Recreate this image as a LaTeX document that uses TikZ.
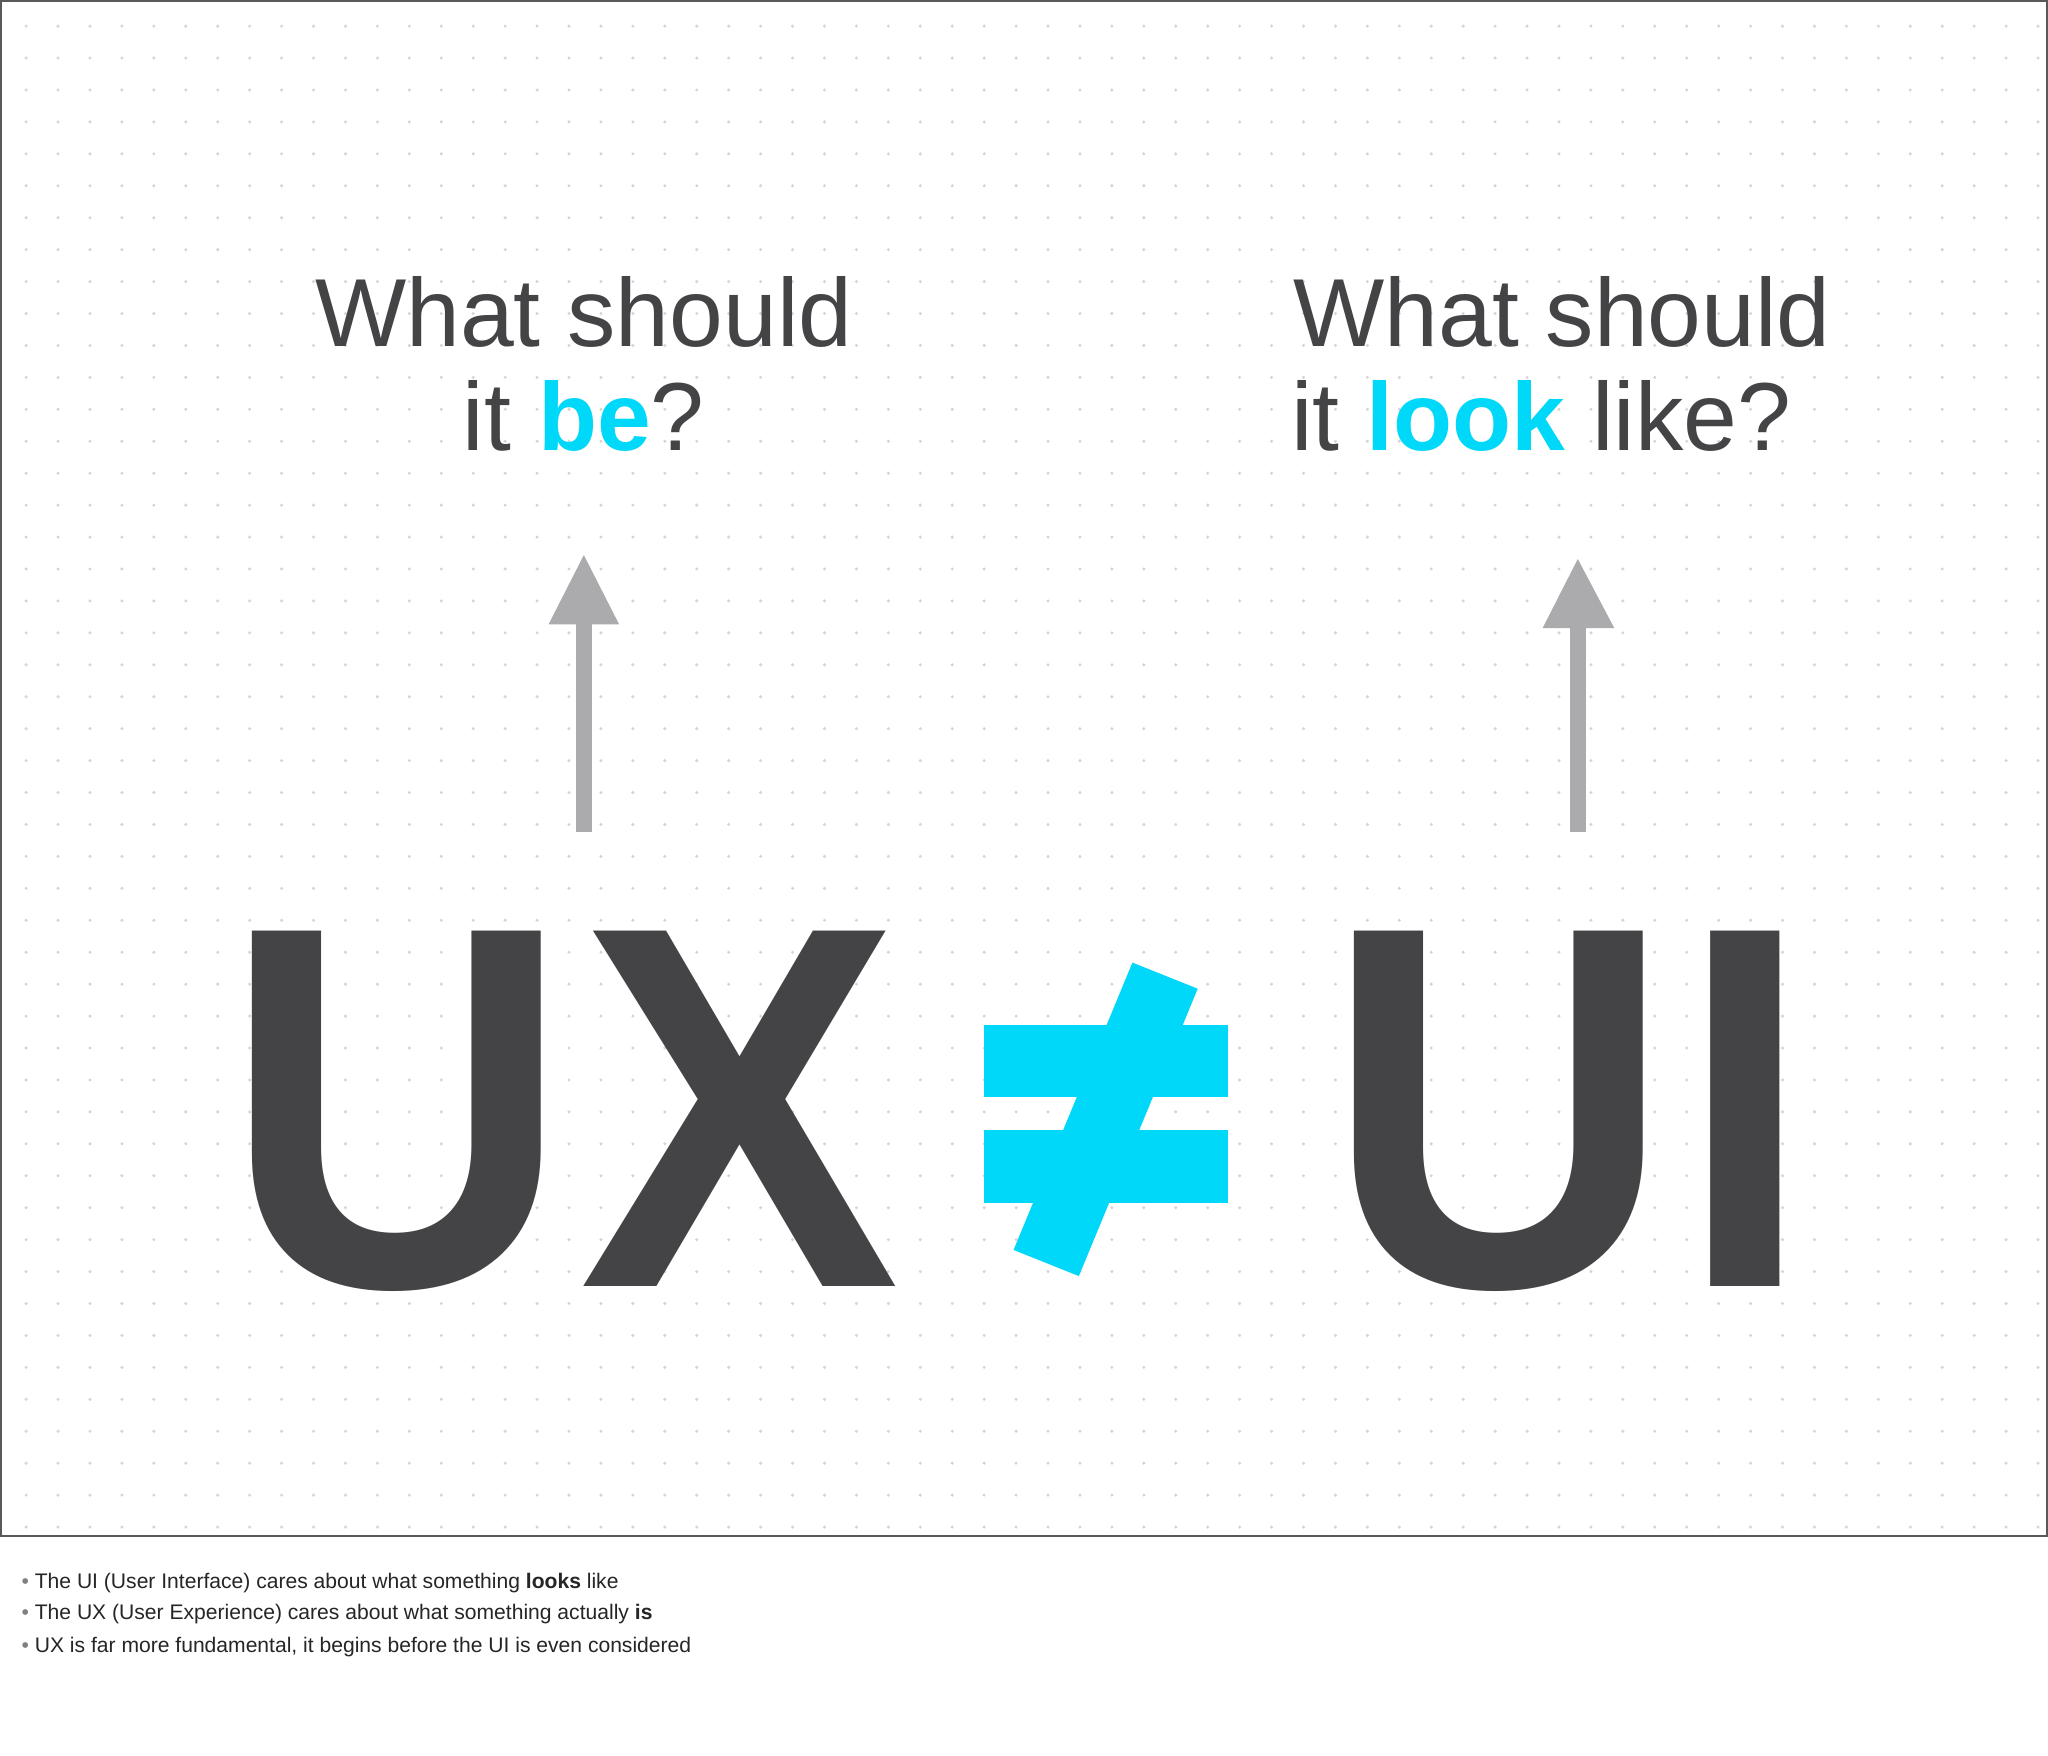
\documentclass[tikz,border=0pt]{standalone}
\usepackage{fontspec}
\setmainfont{Liberation Sans}
\definecolor{ink}{HTML}{444345}
\definecolor{cyanx}{HTML}{00D8FA}
\definecolor{arr}{HTML}{ABAAAD}
\definecolor{dotc}{HTML}{D9D2DC}
\begin{document}
\begin{tikzpicture}[x=0.013061cm,y=-0.013061cm,
  head/.style={font=\fontsize{27.5}{33}\selectfont,text=ink,align=center,inner sep=0},
  big/.style={font=\fontsize{147}{147}\selectfont\bfseries,text=ink,inner sep=0,anchor=base,xscale=0.93},
  bul/.style={font=\fontsize{6}{8}\selectfont,text=black!85,anchor=base west,inner sep=0},
  uparrow/.style={draw=arr,line width=12*0.3706pt}]
\useasboundingbox (0,0) rectangle (1568,1344);
\fill[white] (0,0) rectangle (1568,1344);
\foreach \i in {0,...,63}{\foreach \j in {0,...,47}{
  \fill[dotc] (20+24.45*\i,20+24.45*\j) circle (1.3);}}
\draw[gray!70!black,line width=0.6pt] (0.5,0.5) rectangle (1567.5,1176);
% headings
\node[head,anchor=base] (h1a) at (447,265) {What should};
\node[head,anchor=base] (h1b) at (447,345) {it \textcolor{cyanx}{\bfseries be}?};
\node[head,anchor=base] (h2a) at (1196,265) {What should};
\node[head,anchor=base] (h2b) at (1180,345) {it \textcolor{cyanx}{\bfseries look} like?};
% arrows
\coordinate (a1s) at (447,637); \coordinate (a1e) at (447,478);
\draw[uparrow] (a1s) -- (a1e);
\fill[arr] (447,425) -- (474,478) -- (420,478) -- cycle;
\coordinate (a2s) at (1208,637); \coordinate (a2e) at (1208,481);
\draw[uparrow] (a2s) -- (a2e);
\fill[arr] (1208,428) -- (1236,481) -- (1181,481) -- cycle;
% big letters
\node[big] (U1) at (304,985) {U};
\node[big] (X1) at (566,985) {X};
\node[big] (U2) at (1148,985) {U};
\node[big] (I2) at (1336,985) {I};
% not-equal
\fill[cyanx] (753,785) rectangle (940,840);
\fill[cyanx] (753,865) rectangle (940,921);
\fill[cyanx] (867,737) -- (917,757) -- (826,977) -- (776,957) -- cycle;
% bullets
\node[bul] (b1) at (16,1216) {\textcolor{gray}{•} The UI (User Interface) cares about what something \textbf{looks} like};
\node[bul] (b2) at (16,1240) {\textcolor{gray}{•} The UX (User Experience) cares about what something actually \textbf{is}};
\node[bul] (b3) at (16,1265) {\textcolor{gray}{•} UX is far more fundamental, it begins before the UI is even considered};
\end{tikzpicture}
\end{document}
